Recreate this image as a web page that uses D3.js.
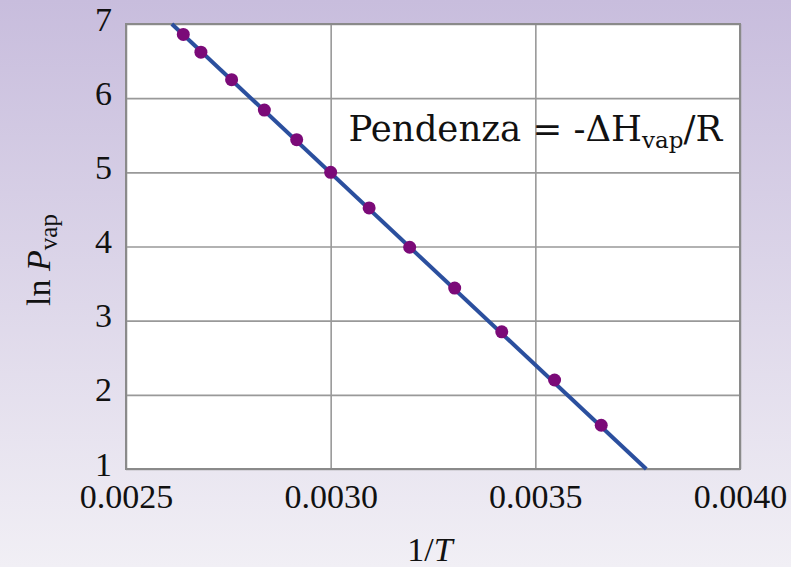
<!DOCTYPE html>
<html>
<head>
<meta charset="utf-8">
<script src="https://cdn.jsdelivr.net/npm/d3@7"></script>
<style>
  body { margin: 0; overflow: hidden; }
</style>
</head>
<body>
<div id="container"></div>
<script>
/* CONSTANTS AND GLOBALS */
const width = 791,
  height = 567,
  margin = {top: 24, bottom: 98, left: 126, right: 51};
const serif = "'Liberation Serif', 'Times New Roman', serif";

// data
const invT = [0.00264, 0.002683, 0.002758, 0.002838, 0.002917, 0.0030,
  0.003094, 0.003193, 0.003303, 0.003418, 0.003547, 0.003661];
const lnP = [6.86, 6.62, 6.25, 5.84, 5.44, 5.00, 4.52, 3.99, 3.44, 2.85, 2.20, 1.59];
// fitted line end points
const fitX = [0.002612, 0.003771];
const fitY = [7, 1];
const xTicks = [0.0025, 0.0030, 0.0035, 0.0040];
const yTicks = [1, 2, 3, 4, 5, 6, 7];

const points = invT.map((d, i) => ({x: d, y: lnP[i]}));
const fit = fitX.map((d, i) => ({x: d, y: fitY[i]}));

const innerW = width - margin.left - margin.right,
  innerH = height - margin.top - margin.bottom;

// SCALES
const xScale = d3.scaleLinear().domain([0.0025, 0.0040]).range([0, innerW]);
const yScale = d3.scaleLinear().domain([1, 7]).range([innerH, 0]);

// CREATE SVG ELEMENT
const svg = d3.select("#container")
  .append("svg")
  .attr("width", width)
  .attr("height", height);

const grad = svg.append("defs").append("linearGradient")
  .attr("id", "bg").attr("x1", 0).attr("y1", 0).attr("x2", 0).attr("y2", 1);
grad.append("stop").attr("offset", "0%").attr("stop-color", "#c8bddd");
grad.append("stop").attr("offset", "100%").attr("stop-color", "#f1eff5");

svg.append("rect").attr("width", width).attr("height", height).attr("fill", "url(#bg)");

const g = svg.append("g").attr("transform", `translate(${margin.left},${margin.top})`);

g.append("rect").attr("width", innerW).attr("height", innerH).attr("fill", "white");

// grid + tick labels
g.append("g")
  .attr("transform", `translate(0,${innerH})`)
  .call(d3.axisBottom(xScale).tickValues(xTicks).tickSize(-innerH).tickFormat(d3.format(".4f")).tickPadding(4))
  .call(ax => ax.select(".domain").remove())
  .call(ax => ax.selectAll("line").attr("stroke", "#999").attr("stroke-width", 1.6))
  .call(ax => ax.selectAll("text")
    .style("font-family", serif).style("font-size", "34px").attr("fill", "#111")
    .attr("dy", "1.04em"));

g.append("g")
  .call(d3.axisLeft(yScale).tickValues(yTicks).tickSize(-innerW).tickFormat(d3.format("d")).tickPadding(14))
  .call(ax => ax.select(".domain").remove())
  .call(ax => ax.selectAll("line").attr("stroke", "#999").attr("stroke-width", 1.6))
  .call(ax => ax.selectAll("text")
    .style("font-family", serif).style("font-size", "34px").attr("fill", "#111").attr("dy", "0.18em"));

g.append("rect").attr("width", innerW).attr("height", innerH)
  .attr("fill", "none").attr("stroke", "#8a8a8a").attr("stroke-width", 2);

// fitted line
const line = d3.line().x(d => xScale(d.x)).y(d => yScale(d.y));
g.append("path")
  .datum(fit)
  .attr("fill", "none")
  .attr("stroke", "#2b4f9e")
  .attr("stroke-width", 4)
  .attr("d", line);

// data points
g.selectAll("circle")
  .data(points)
  .join("circle")
  .attr("cx", d => xScale(d.x))
  .attr("cy", d => yScale(d.y))
  .attr("r", 6.5)
  .attr("fill", "#7b0a78");

// annotation
const ann = g.append("text")
  .attr("x", xScale(0.0035))
  .attr("y", 117)
  .attr("text-anchor", "middle")
  .style("font-family", "'DejaVu Serif', 'Liberation Serif', serif")
  .style("font-size", "35.5px")
  .attr("fill", "#111");
ann.append("tspan").text("Pendenza = -ΔH");
ann.append("tspan").style("font-size", "23px").attr("dy", 7).text("vap");
ann.append("tspan").attr("dy", -7).text("/R");

// axis titles
const xt = svg.append("text")
  .attr("x", 430)
  .attr("y", 561)
  .attr("text-anchor", "middle")
  .style("font-family", serif)
  .style("font-size", "34px")
  .attr("fill", "#111");
xt.append("tspan").text("1/");
xt.append("tspan").style("font-style", "italic").text("T");

const yt = svg.append("text")
  .attr("transform", "translate(50,260) rotate(-90)")
  .attr("text-anchor", "middle")
  .style("font-family", serif)
  .style("font-size", "34px")
  .attr("fill", "#111");
yt.append("tspan").text("ln ");
yt.append("tspan").style("font-style", "italic").text("P");
yt.append("tspan").style("font-size", "25px").attr("dy", 7).text("vap");
</script>
</body>
</html>
